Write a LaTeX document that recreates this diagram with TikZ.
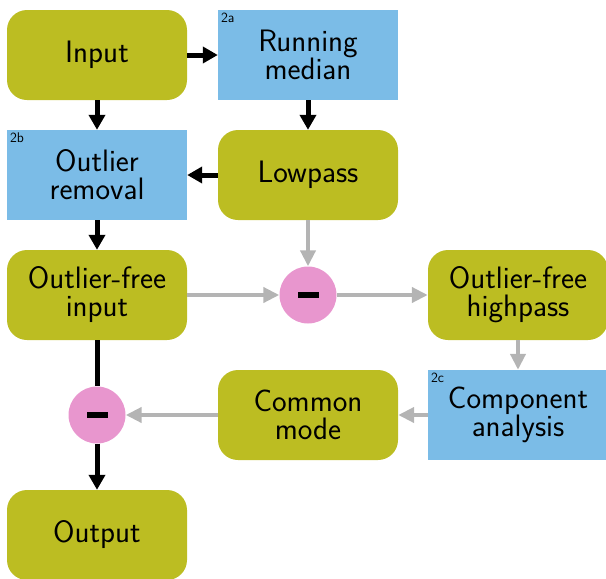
\documentclass[tikz,border=0pt]{standalone}
\usepackage{fontspec}
\usetikzlibrary{arrows.meta}
\definecolor{boxolive}{RGB}{188,189,34}
\definecolor{boxblue}{RGB}{123,188,231}
\definecolor{subpink}{RGB}{232,150,206}
\definecolor{lightline}{RGB}{180,180,180}
\begin{document}
\begin{tikzpicture}[x=1pt,y=-1pt,
    every node/.style={font=\sffamily\fontsize{31}{28}\selectfont},
    olivebox/.style={fill=boxolive,rounded corners=20pt,minimum width=180pt,minimum height=90pt,align=center,inner sep=0pt},
    bluebox/.style={fill=boxblue,minimum width=180pt,minimum height=90pt,align=center,inner sep=0pt},
    minusnode/.style={circle,fill=subpink,minimum size=57pt,inner sep=0pt},
    tag/.style={anchor=north west,inner sep=0pt,font=\sffamily\fontsize{14}{14}\selectfont},
    blackarrow/.style={line width=5pt,-{Triangle[length=15pt,width=16pt]}},
    grayarrow/.style={line width=4pt,lightline,-{Triangle[length=16pt,width=15pt]}}]
    \useasboundingbox (0,0) rectangle (606,579);
    % boxes
    \node[olivebox] (input) at (97,55) {Input};
    \node[bluebox] (median) at (308,55) {Running\\median};
    \node[bluebox] (removal) at (97,175) {Outlier\\removal};
    \node[olivebox] (lowpass) at (308,175) {Lowpass};
    \node[olivebox] (clean) at (97,295) {Outlier-free\\input};
    \node[minusnode] (diffA) at (308,295) {\rule{21pt}{6pt}};
    \node[olivebox] (highpass) at (518,295) {Outlier-free\\highpass};
    \node[bluebox] (component) at (518,415) {Component\\analysis};
    \node[olivebox] (common) at (308,415) {Common\\mode};
    \node[minusnode] (diffB) at (97,415) {\rule{21pt}{6pt}};
    \node[olivebox] (output) at (97,535) {Output};
    % tags
    \node[tag] at ([shift={(3pt,-3pt)}]median.north west) {2a};
    \node[tag] at ([shift={(3pt,-3pt)}]removal.north west) {2b};
    \node[tag] at ([shift={(3pt,-3pt)}]component.north west) {2c};
    % black path
    \draw[blackarrow] (input) -- (median);
    \draw[blackarrow] (input) -- (removal);
    \draw[blackarrow] (median) -- (lowpass);
    \draw[blackarrow] (lowpass) -- (removal);
    \draw[blackarrow] (removal) -- (clean);
    \draw[line width=5pt] (clean) -- (diffB);
    \draw[blackarrow] (diffB) -- (output);
    % gray path
    \draw[grayarrow] (lowpass) -- (diffA);
    \draw[grayarrow] (clean) -- (diffA);
    \draw[grayarrow] (diffA) -- (highpass);
    \draw[grayarrow] (highpass) -- (component);
    \draw[grayarrow] (component) -- (common);
    \draw[grayarrow] (common) -- (diffB);
\end{tikzpicture}
\end{document}
